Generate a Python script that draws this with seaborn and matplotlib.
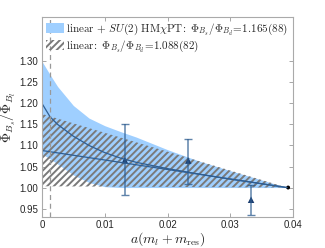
import matplotlib
matplotlib.use("Agg")
import matplotlib.pyplot as plt
import seaborn as sns
import pandas as pd

# band boundaries
hm_x = [0, 0.0013, 0.0025, 0.005, 0.0075, 0.01, 0.0125, 0.015, 0.02, 0.025, 0.03, 0.035, 0.039]
hm_upper = [1.30, 1.268, 1.24, 1.195, 1.165, 1.147, 1.133, 1.12, 1.09, 1.063, 1.04, 1.018, 1.0]
hm_lower = [1.08, 1.068, 1.056, 1.03, 1.012, 1.002, 1.0, 1.0, 1.0, 1.0, 1.0, 1.0, 1.0]
hm_center = [1.20, 1.168, 1.15, 1.122, 1.10, 1.083, 1.07, 1.06, 1.045, 1.032, 1.02, 1.009, 1.0]

lin_x = [0, 0.039]
lin_upper = [1.175, 1.0]
lin_lower = [1.003, 1.0]
lin_center = [1.088, 1.0]

# lattice points
pt_x = [0.0132, 0.0233, 0.0333]
pt_y = [1.065, 1.064, 0.971]
pt_lo = [0.982, 1.009, 0.934]
pt_hi = [1.150, 1.116, 1.007]
ref_x = [0.0392]
ref_y = [1.0]
phys_x = 0.00128

sns.set_style("ticks")
plt.rcParams['font.family'] = ['Liberation Sans', 'DejaVu Sans']
plt.rcParams['mathtext.fontset'] = 'cm'
plt.rcParams['hatch.color'] = '#7a7a7a'
plt.rcParams['hatch.linewidth'] = 1.4

fig = plt.figure(figsize=(3.25, 2.48), dpi=100)
ax = fig.add_axes([0.129, 0.125, 0.773, 0.806])

ax.fill_between(hm_x, hm_lower, hm_upper, color='#9fcfff', lw=0,
                label=r'$\mathrm{linear}\,+\,SU(2)\ \mathrm{HM}\chi\mathrm{PT}\!:\ \Phi_{B_s}/\Phi_{B_d}\!=\!1.165(88)$')
ax.fill_between(lin_x, lin_lower, lin_upper, facecolor='none', edgecolor='#7a7a7a', lw=0,
                hatch='/////', label=r'$\mathrm{linear}\!:\ \Phi_{B_s}/\Phi_{B_d}\!=\!1.088(82)$')

sns.lineplot(x=hm_x, y=hm_center, ax=ax, color='#2f5f94', lw=0.9)
sns.lineplot(x=lin_x, y=lin_center, ax=ax, color='#2f5f94', lw=0.9)

ax.axvline(phys_x, color='#999999', ls=(0, (4, 3)), lw=0.9)

df = pd.DataFrame({'x': pt_x, 'y': pt_y, 'lo': pt_lo, 'hi': pt_hi})
yerr = [df['y'] - df['lo'], df['hi'] - df['y']]
ax.errorbar(df['x'], df['y'], yerr=yerr, fmt='none', ecolor='#2a5a8e', elinewidth=1.1,
            capsize=3, capthick=1.0, alpha=0.75)
sns.scatterplot(x=pt_x, y=pt_y, ax=ax, marker='^', color='#1d3f70', s=22, edgecolor='none')
sns.scatterplot(x=ref_x, y=ref_y, ax=ax, marker='o', color='black', s=8, edgecolor='none')

ax.set_xlim(0, 0.04)
ax.set_ylim(0.93, 1.405)
ax.set_xticks([0, 0.01, 0.02, 0.03, 0.04])
ax.set_xticklabels(['0', '0.01', '0.02', '0.03', '0.04'])
ax.set_yticks([0.95, 1.00, 1.05, 1.10, 1.15, 1.20, 1.25, 1.30])
ax.set_yticklabels(['0.95', '1.00', '1.05', '1.10', '1.15', '1.20', '1.25', '1.30'])
ax.tick_params(direction='in', length=3, width=0.6, color='#999999', labelsize=7,
               top=True, right=True, pad=2.5)
for s in ax.spines.values():
    s.set_color('#aaaaaa')
    s.set_linewidth(0.8)

ax.set_xlabel(r'$a(m_l + m_{\rm res})$', fontsize=10, labelpad=0)
ax.set_ylabel(r'$\Phi_{B_s}/\Phi_{B_l}$', fontsize=10, labelpad=1)

ax.legend(loc='upper left', fontsize=8, frameon=False, borderaxespad=0.2,
          handlelength=1.6, handleheight=0.9, handletextpad=0.2, labelspacing=0.15,
          borderpad=0.2)

fig.savefig('out.png', dpi=100)
